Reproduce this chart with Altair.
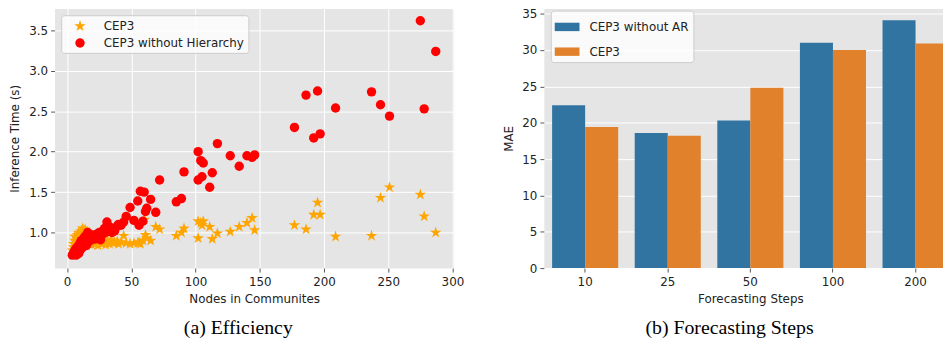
import altair as alt
import pandas as pd

# ---------------- data: (a) Efficiency ----------------
nodes = [4, 5, 5, 6, 6, 7, 7, 8, 8, 9, 9, 10, 10, 11, 11, 12, 12, 13, 13, 14, 14,
         15, 15, 16, 16, 17, 18, 19, 20, 21, 22, 23, 24, 25, 26, 27, 28, 29, 30,
         31, 32, 33, 34, 35, 36, 37, 39, 40, 42, 44, 46, 49, 52, 55, 56, 57, 59,
         60, 61, 62, 65, 69, 72, 85, 89, 91, 102, 102, 104, 105, 106, 111, 113,
         117, 127, 134, 140, 144, 146, 177, 186, 192, 195, 197, 209, 237, 244,
         251, 275, 278, 287]
time_cep3 = [0.78, 0.82, 0.86, 0.90, 0.95, 0.80, 0.88, 0.92, 0.97, 0.85, 1.00,
             0.90, 0.95, 0.88, 1.02, 0.92, 1.05, 0.86, 0.98, 0.90, 1.04, 0.84,
             0.95, 0.88, 1.00, 0.86, 0.90, 0.85, 0.88, 0.92, 0.86, 0.90, 0.84,
             0.88, 0.92, 0.86, 0.90, 0.88, 0.85, 0.90, 0.88, 0.86, 0.90, 0.88,
             0.87, 0.88, 0.89, 0.86, 0.88, 0.96, 0.87, 0.86, 0.87, 0.87, 0.88,
             0.86, 0.90, 1.16, 0.97, 0.93, 0.90, 1.07, 1.04, 0.96, 1.00, 1.05,
             1.14, 0.93, 1.12, 1.09, 1.14, 1.07, 0.92, 0.99, 1.01, 1.07, 1.12,
             1.18, 1.03, 1.09, 1.04, 1.22, 1.37, 1.22, 0.95, 0.96, 1.43, 1.56,
             1.47, 1.20, 1.00]
time_no_hier = [0.72, 0.73, 0.75, 0.74, 0.78, 0.72, 0.80, 0.76, 0.82, 0.74, 0.84,
                0.78, 0.87, 0.80, 0.90, 0.82, 0.88, 0.84, 0.93, 0.86, 0.95, 0.84,
                0.97, 0.88, 1.00, 0.89, 0.94, 0.91, 0.97, 0.95, 0.92, 0.98, 0.95,
                1.00, 0.91, 0.97, 1.02, 1.05, 1.00, 1.13, 1.08, 1.03, 1.06, 1.00,
                1.04, 1.02, 1.08, 1.10, 1.09, 1.13, 1.20, 1.31, 1.15, 1.39, 1.09,
                1.51, 1.14, 1.50, 1.26, 1.30, 1.41, 1.25, 1.65, 1.38, 1.42, 1.75,
                2.00, 1.65, 1.89, 1.69, 1.86, 1.56, 1.74, 2.10, 1.95, 1.82, 1.95,
                1.93, 1.96, 2.30, 2.70, 2.17, 2.75, 2.22, 2.54, 2.74, 2.58, 2.44,
                3.62, 2.53, 3.24]
series_a = ["CEP3", "CEP3 without Hierarchy"]

# ---------------- data: (b) Forecasting Steps ----------------
steps = ["10", "25", "50", "100", "200"]
mae_no_ar = [22.4, 18.6, 20.3, 31.0, 34.1]
mae_cep3 = [19.4, 18.2, 24.8, 30.0, 30.9]
series_b = ["CEP3 without AR", "CEP3"]

STAR = ("M0,-1L0.2245,-0.309L0.951,-0.309L0.363,0.118L0.588,0.809L0,0.382"
        "L-0.588,0.809L-0.363,0.118L-0.951,-0.309L-0.2245,-0.309Z")
SWATCH = "M-1,-0.34L1,-0.34L1,0.34L-1,0.34Z"

n = len(nodes)
scatter_df = pd.DataFrame({
    "nodes": nodes + nodes,
    "time": time_cep3 + time_no_hier,
    "method": [series_a[0]] * n + [series_a[1]] * n,
    "ord": [0] * n + [1] * n,
})
bar_df = pd.DataFrame({
    "steps": steps + steps,
    "mae": mae_no_ar + mae_cep3,
    "variant": [series_b[0]] * len(steps) + [series_b[1]] * len(steps),
})

TXT = "#222222"
FONT = "DejaVu Sans"
FS = 12

def leg(x, y, sym_offset, label_offset, row_pad, **kw):
    return alt.Legend(
        title=None, orient="none", legendX=x, legendY=y,
        fillColor="rgba(255,255,255,0.8)", strokeColor="#cccccc",
        cornerRadius=3, padding=4, symbolOffset=sym_offset,
        labelOffset=label_offset, rowPadding=row_pad,
        labelFont=FONT, labelFontSize=FS, labelColor=TXT, **kw)

leg_a = leg(6.7, 6.7, 8, 17, 5, symbolSize=85)
leg_b = leg(7, 2, 0, 10, 6, symbolSize=625, symbolType=SWATCH,
            symbolStrokeWidth=0)

def caption(text, dx):
    return alt.TitleParams(text=text, orient="bottom", anchor="middle",
                           frame="group", font="Liberation Serif",
                           fontSize=20, fontWeight="normal", color="black",
                           offset=14, dx=dx)

left = alt.Chart(scatter_df).mark_point(filled=True, opacity=1).encode(
    x=alt.X("nodes:Q",
            scale=alt.Scale(domain=[-9.8, 301], nice=False, zero=False),
            axis=alt.Axis(values=[0, 50, 100, 150, 200, 250, 300],
                          title="Nodes in Communites")),
    y=alt.Y("time:Q",
            scale=alt.Scale(domain=[0.56, 3.77], nice=False, zero=False),
            axis=alt.Axis(values=[1.0, 1.5, 2.0, 2.5, 3.0, 3.5], format=".1f",
                          title="Inference Time (s)", titlePadding=7,
                          labelPadding=3)),
    color=alt.Color("method:N",
                    scale=alt.Scale(domain=series_a,
                                    range=["#FFA500", "#FF0000"]),
                    legend=leg_a),
    shape=alt.Shape("method:N",
                    scale=alt.Scale(domain=series_a, range=[STAR, "circle"]),
                    legend=leg_a),
    size=alt.Size("method:O",
                  scale=alt.Scale(domain=series_a, range=[150, 90]),
                  legend=None),
    order=alt.Order("ord:Q"),
).properties(width=403, height=262, title=caption("(a) Efficiency", -16))

right = alt.Chart(bar_df).mark_bar().encode(
    x=alt.X("steps:N", sort=steps,
            scale=alt.Scale(paddingInner=0.2, paddingOuter=0.1),
            axis=alt.Axis(labelAngle=0, title="Forecasting Steps",
                          grid=False)),
    xOffset=alt.XOffset("variant:N", sort=series_b),
    y=alt.Y("mae:Q", scale=alt.Scale(domain=[0, 35.7], nice=False),
            axis=alt.Axis(values=[0, 5, 10, 15, 20, 25, 30, 35],
                          title="MAE", titlePadding=6, labelPadding=3)),
    color=alt.Color("variant:N", sort=series_b,
                    scale=alt.Scale(domain=series_b,
                                    range=["#3274A1", "#E1812C"]),
                    legend=leg_b),
).properties(width=417, height=262,
             title=caption("(b) Forecasting Steps", -21))

chart = alt.hconcat(left, right, spacing=38).resolve_scale(
    color="independent", shape="independent", size="independent"
).resolve_legend(
    color="independent", shape="independent"
).properties(
    padding={"left": 0, "top": -3, "right": -15, "bottom": -1}
).configure_view(
    fill="#E5E5E5", stroke="transparent"
).configure_axis(
    domain=False, grid=True, gridColor="#FFFFFF", gridWidth=1,
    tickColor="#555555", tickSize=4, tickWidth=1,
    labelFont=FONT, labelFontSize=FS, labelColor=TXT, labelPadding=5,
    titleFont=FONT, titleFontSize=FS, titleFontWeight="normal",
    titleColor=TXT, titlePadding=6,
)

chart.save("out.html", embed_options={"renderer": "svg", "actions": False})
